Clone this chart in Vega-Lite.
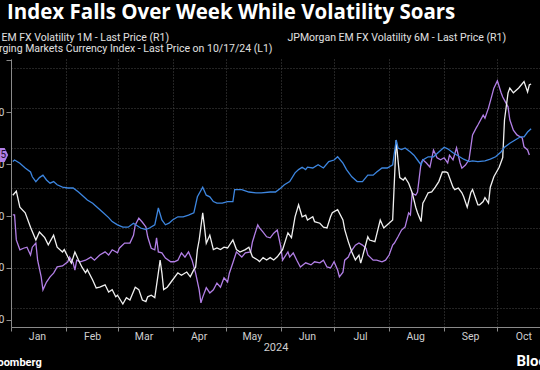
{
"$schema": "https://vega.github.io/schema/vega-lite/v6.json",
"width": 529,
"height": 268,
"autosize": {"type": "none"},
"padding": {"left": 11, "top": 59, "right": 0, "bottom": 43},
"background": "#000000",
"title": {"text": " Index Falls Over Week While Volatility Soars", "anchor": "start", "frame": "group", "color": "#ffffff", "font": "Open Sans", "fontSize": 20.5, "fontWeight": "bold", "dx": -4, "offset": 10},
"config": {
  "view": {"stroke": null},
  "axis": {"domainColor": "#8a8a8a", "tickColor": "#8a8a8a", "labelColor": "#cfcfcf", "labelFont": "Roboto", "labelFontSize": 10.5, "titleFont": "Roboto", "titleColor": "#cfcfcf", "titleFontWeight": "normal", "gridColor": "#5a5a5a", "gridDash": [1, 2], "gridWidth": 0.8},
  "legend": {"orient": "none", "legendX": -75, "legendY": -26, "columns": 2, "symbolType": "square", "symbolSize": 30, "symbolStrokeWidth": 0, "labelFont": "Roboto", "labelFontSize": 10.5, "labelColor": "#e0e0e0", "labelLimit": 500, "columnPadding": -16, "rowPadding": 0, "title": null}
},
"datasets": {
"all": [
{"s":"1M","d":"2024-01-02","v":7.41},{"s":"1M","d":"2024-01-04","v":7.46},{"s":"1M","d":"2024-01-06","v":7.26},{"s":"1M","d":"2024-01-09","v":7.19},{"s":"1M","d":"2024-01-12","v":7.01},{"s":"1M","d":"2024-01-15","v":6.85},{"s":"1M","d":"2024-01-17","v":6.95},{"s":"1M","d":"2024-01-20","v":6.88},{"s":"1M","d":"2024-01-22","v":6.79},{"s":"1M","d":"2024-01-25","v":6.91},{"s":"1M","d":"2024-01-27","v":6.76},{"s":"1M","d":"2024-01-30","v":6.70},{"s":"1M","d":"2024-01-31","v":6.73},
{"s":"1M","d":"2024-02-02","v":6.64},{"s":"1M","d":"2024-02-04","v":6.56},{"s":"1M","d":"2024-02-06","v":6.70},{"s":"1M","d":"2024-02-08","v":6.60},{"s":"1M","d":"2024-02-10","v":6.51},{"s":"1M","d":"2024-02-12","v":6.44},{"s":"1M","d":"2024-02-13","v":6.48},{"s":"1M","d":"2024-02-16","v":6.35},{"s":"1M","d":"2024-02-18","v":6.25},{"s":"1M","d":"2024-02-20","v":6.26},{"s":"1M","d":"2024-02-23","v":6.29},{"s":"1M","d":"2024-02-25","v":6.20},{"s":"1M","d":"2024-02-27","v":6.23},{"s":"1M","d":"2024-02-29","v":6.14},
{"s":"1M","d":"2024-03-01","v":6.16},{"s":"1M","d":"2024-03-04","v":6.05},{"s":"1M","d":"2024-03-06","v":6.13},{"s":"1M","d":"2024-03-08","v":6.10},{"s":"1M","d":"2024-03-11","v":6.26},{"s":"1M","d":"2024-03-13","v":6.23},{"s":"1M","d":"2024-03-15","v":6.10},{"s":"1M","d":"2024-03-17","v":6.08},{"s":"1M","d":"2024-03-18","v":6.14},{"s":"1M","d":"2024-03-20","v":6.16},{"s":"1M","d":"2024-03-22","v":6.13},{"s":"1M","d":"2024-03-24","v":6.44},{"s":"1M","d":"2024-03-25","v":6.60},{"s":"1M","d":"2024-03-26","v":6.44},{"s":"1M","d":"2024-03-27","v":6.23},{"s":"1M","d":"2024-03-29","v":6.26},
{"s":"1M","d":"2024-04-01","v":6.35},{"s":"1M","d":"2024-04-04","v":6.44},{"s":"1M","d":"2024-04-06","v":6.41},{"s":"1M","d":"2024-04-09","v":6.45},{"s":"1M","d":"2024-04-11","v":6.39},{"s":"1M","d":"2024-04-13","v":6.48},{"s":"1M","d":"2024-04-14","v":6.51},{"s":"1M","d":"2024-04-15","v":6.73},{"s":"1M","d":"2024-04-16","v":6.85},{"s":"1M","d":"2024-04-18","v":7.19},{"s":"1M","d":"2024-04-19","v":7.01},{"s":"1M","d":"2024-04-20","v":6.81},{"s":"1M","d":"2024-04-22","v":6.91},{"s":"1M","d":"2024-04-24","v":6.73},{"s":"1M","d":"2024-04-26","v":6.75},{"s":"1M","d":"2024-04-28","v":6.73},{"s":"1M","d":"2024-04-30","v":6.76},
{"s":"1M","d":"2024-05-02","v":6.75},{"s":"1M","d":"2024-05-05","v":6.85},{"s":"1M","d":"2024-05-07","v":6.73},{"s":"1M","d":"2024-05-09","v":6.70},{"s":"1M","d":"2024-05-12","v":6.73},{"s":"1M","d":"2024-05-14","v":6.76},{"s":"1M","d":"2024-05-16","v":6.64},{"s":"1M","d":"2024-05-19","v":6.60},{"s":"1M","d":"2024-05-20","v":6.58},{"s":"1M","d":"2024-05-22","v":6.63},{"s":"1M","d":"2024-05-24","v":6.60},{"s":"1M","d":"2024-05-26","v":6.63},{"s":"1M","d":"2024-05-28","v":6.60},{"s":"1M","d":"2024-05-30","v":6.64},
{"s":"1M","d":"2024-06-02","v":6.73},{"s":"1M","d":"2024-06-05","v":6.94},{"s":"1M","d":"2024-06-07","v":6.88},{"s":"1M","d":"2024-06-09","v":7.14},{"s":"1M","d":"2024-06-11","v":7.29},{"s":"1M","d":"2024-06-13","v":7.14},{"s":"1M","d":"2024-06-15","v":7.16},{"s":"1M","d":"2024-06-16","v":7.10},{"s":"1M","d":"2024-06-19","v":7.14},{"s":"1M","d":"2024-06-20","v":7.08},{"s":"1M","d":"2024-06-23","v":7.06},{"s":"1M","d":"2024-06-25","v":7.01},{"s":"1M","d":"2024-06-27","v":7.00},{"s":"1M","d":"2024-06-29","v":7.14},{"s":"1M","d":"2024-06-30","v":7.19},
{"s":"1M","d":"2024-07-03","v":7.23},{"s":"1M","d":"2024-07-06","v":7.10},{"s":"1M","d":"2024-07-07","v":6.98},{"s":"1M","d":"2024-07-09","v":6.83},{"s":"1M","d":"2024-07-11","v":6.70},{"s":"1M","d":"2024-07-13","v":6.60},{"s":"1M","d":"2024-07-15","v":6.66},{"s":"1M","d":"2024-07-16","v":6.56},{"s":"1M","d":"2024-07-17","v":6.64},{"s":"1M","d":"2024-07-20","v":6.89},{"s":"1M","d":"2024-07-21","v":6.85},{"s":"1M","d":"2024-07-24","v":6.83},{"s":"1M","d":"2024-07-27","v":7.10},{"s":"1M","d":"2024-07-29","v":7.00},{"s":"1M","d":"2024-07-31","v":7.04},
{"s":"1M","d":"2024-08-03","v":7.10},{"s":"1M","d":"2024-08-05","v":8.10},{"s":"1M","d":"2024-08-06","v":7.85},{"s":"1M","d":"2024-08-07","v":7.63},{"s":"1M","d":"2024-08-09","v":7.60},{"s":"1M","d":"2024-08-10","v":7.63},{"s":"1M","d":"2024-08-12","v":7.56},{"s":"1M","d":"2024-08-14","v":7.44},{"s":"1M","d":"2024-08-16","v":7.26},{"s":"1M","d":"2024-08-17","v":7.19},{"s":"1M","d":"2024-08-19","v":7.08},{"s":"1M","d":"2024-08-20","v":7.31},{"s":"1M","d":"2024-08-21","v":7.35},{"s":"1M","d":"2024-08-23","v":7.44},{"s":"1M","d":"2024-08-25","v":7.45},{"s":"1M","d":"2024-08-27","v":7.51},{"s":"1M","d":"2024-08-29","v":7.58},{"s":"1M","d":"2024-08-31","v":7.70},
{"s":"1M","d":"2024-09-02","v":7.70},{"s":"1M","d":"2024-09-03","v":7.69},{"s":"1M","d":"2024-09-06","v":7.51},{"s":"1M","d":"2024-09-07","v":7.48},{"s":"1M","d":"2024-09-09","v":7.50},{"s":"1M","d":"2024-09-11","v":7.44},{"s":"1M","d":"2024-09-12","v":7.39},{"s":"1M","d":"2024-09-14","v":7.26},{"s":"1M","d":"2024-09-16","v":7.44},{"s":"1M","d":"2024-09-17","v":7.48},{"s":"1M","d":"2024-09-20","v":7.29},{"s":"1M","d":"2024-09-21","v":7.29},{"s":"1M","d":"2024-09-23","v":7.33},{"s":"1M","d":"2024-09-24","v":7.38},{"s":"1M","d":"2024-09-26","v":7.31},{"s":"1M","d":"2024-09-27","v":7.51},{"s":"1M","d":"2024-09-29","v":7.64},
{"s":"1M","d":"2024-10-02","v":7.76},{"s":"1M","d":"2024-10-04","v":7.88},{"s":"1M","d":"2024-10-05","v":8.35},{"s":"1M","d":"2024-10-07","v":8.69},{"s":"1M","d":"2024-10-08","v":8.75},{"s":"1M","d":"2024-10-10","v":8.69},{"s":"1M","d":"2024-10-13","v":8.75},{"s":"1M","d":"2024-10-16","v":8.83},{"s":"1M","d":"2024-10-18","v":8.70},{"s":"1M","d":"2024-10-19","v":8.79},{"s":"1M","d":"2024-10-20","v":8.80},
{"s":"6M","d":"2024-01-02","v":7.83},{"s":"6M","d":"2024-01-03","v":7.85},{"s":"6M","d":"2024-01-06","v":7.81},{"s":"6M","d":"2024-01-09","v":7.75},{"s":"6M","d":"2024-01-12","v":7.70},{"s":"6M","d":"2024-01-13","v":7.64},{"s":"6M","d":"2024-01-15","v":7.58},{"s":"6M","d":"2024-01-17","v":7.63},{"s":"6M","d":"2024-01-19","v":7.66},{"s":"6M","d":"2024-01-21","v":7.60},{"s":"6M","d":"2024-01-23","v":7.56},{"s":"6M","d":"2024-01-25","v":7.58},{"s":"6M","d":"2024-01-27","v":7.54},{"s":"6M","d":"2024-01-30","v":7.51},
{"s":"6M","d":"2024-02-02","v":7.50},{"s":"6M","d":"2024-02-05","v":7.50},{"s":"6M","d":"2024-02-08","v":7.45},{"s":"6M","d":"2024-02-11","v":7.39},{"s":"6M","d":"2024-02-13","v":7.35},{"s":"6M","d":"2024-02-16","v":7.31},{"s":"6M","d":"2024-02-19","v":7.25},{"s":"6M","d":"2024-02-22","v":7.19},{"s":"6M","d":"2024-02-25","v":7.13},{"s":"6M","d":"2024-02-27","v":7.08},
{"s":"6M","d":"2024-03-01","v":7.04},{"s":"6M","d":"2024-03-04","v":7.01},{"s":"6M","d":"2024-03-07","v":7.01},{"s":"6M","d":"2024-03-10","v":7.06},{"s":"6M","d":"2024-03-14","v":7.00},{"s":"6M","d":"2024-03-17","v":6.98},{"s":"6M","d":"2024-03-19","v":7.00},{"s":"6M","d":"2024-03-22","v":7.04},{"s":"6M","d":"2024-03-24","v":7.25},{"s":"6M","d":"2024-03-26","v":7.10},{"s":"6M","d":"2024-03-28","v":7.04},{"s":"6M","d":"2024-03-30","v":7.06},
{"s":"6M","d":"2024-04-01","v":7.10},{"s":"6M","d":"2024-04-04","v":7.14},{"s":"6M","d":"2024-04-07","v":7.14},{"s":"6M","d":"2024-04-10","v":7.16},{"s":"6M","d":"2024-04-13","v":7.19},{"s":"6M","d":"2024-04-15","v":7.39},{"s":"6M","d":"2024-04-18","v":7.51},{"s":"6M","d":"2024-04-20","v":7.41},{"s":"6M","d":"2024-04-22","v":7.39},{"s":"6M","d":"2024-04-24","v":7.33},{"s":"6M","d":"2024-04-26","v":7.31},{"s":"6M","d":"2024-04-29","v":7.31},
{"s":"6M","d":"2024-05-02","v":7.33},{"s":"6M","d":"2024-05-05","v":7.33},{"s":"6M","d":"2024-05-06","v":7.48},{"s":"6M","d":"2024-05-10","v":7.48},{"s":"6M","d":"2024-05-14","v":7.45},{"s":"6M","d":"2024-05-18","v":7.44},{"s":"6M","d":"2024-05-21","v":7.44},{"s":"6M","d":"2024-05-26","v":7.45},{"s":"6M","d":"2024-05-29","v":7.45},
{"s":"6M","d":"2024-06-01","v":7.50},{"s":"6M","d":"2024-06-03","v":7.54},{"s":"6M","d":"2024-06-06","v":7.58},{"s":"6M","d":"2024-06-09","v":7.69},{"s":"6M","d":"2024-06-11","v":7.73},{"s":"6M","d":"2024-06-13","v":7.76},{"s":"6M","d":"2024-06-15","v":7.73},{"s":"6M","d":"2024-06-16","v":7.76},{"s":"6M","d":"2024-06-19","v":7.75},{"s":"6M","d":"2024-06-22","v":7.79},{"s":"6M","d":"2024-06-25","v":7.75},{"s":"6M","d":"2024-06-28","v":7.83},
{"s":"6M","d":"2024-07-01","v":7.85},{"s":"6M","d":"2024-07-03","v":7.89},{"s":"6M","d":"2024-07-06","v":7.81},{"s":"6M","d":"2024-07-08","v":7.73},{"s":"6M","d":"2024-07-11","v":7.64},{"s":"6M","d":"2024-07-14","v":7.58},{"s":"6M","d":"2024-07-17","v":7.58},{"s":"6M","d":"2024-07-20","v":7.66},{"s":"6M","d":"2024-07-23","v":7.66},{"s":"6M","d":"2024-07-25","v":7.70},{"s":"6M","d":"2024-07-28","v":7.75},{"s":"6M","d":"2024-07-31","v":7.75},
{"s":"6M","d":"2024-08-03","v":7.79},{"s":"6M","d":"2024-08-05","v":8.10},{"s":"6M","d":"2024-08-06","v":8.00},{"s":"6M","d":"2024-08-08","v":7.98},{"s":"6M","d":"2024-08-10","v":8.00},{"s":"6M","d":"2024-08-13","v":7.95},{"s":"6M","d":"2024-08-15","v":7.91},{"s":"6M","d":"2024-08-17","v":7.85},{"s":"6M","d":"2024-08-19","v":7.79},{"s":"6M","d":"2024-08-20","v":7.85},{"s":"6M","d":"2024-08-23","v":7.89},{"s":"6M","d":"2024-08-26","v":7.89},{"s":"6M","d":"2024-08-29","v":7.95},
{"s":"6M","d":"2024-09-01","v":8.01},{"s":"6M","d":"2024-09-03","v":7.99},{"s":"6M","d":"2024-09-06","v":7.94},{"s":"6M","d":"2024-09-09","v":7.90},{"s":"6M","d":"2024-09-12","v":7.86},{"s":"6M","d":"2024-09-15","v":7.83},{"s":"6M","d":"2024-09-17","v":7.84},{"s":"6M","d":"2024-09-20","v":7.83},{"s":"6M","d":"2024-09-24","v":7.84},{"s":"6M","d":"2024-09-27","v":7.86},{"s":"6M","d":"2024-09-30","v":7.89},
{"s":"6M","d":"2024-10-03","v":7.95},{"s":"6M","d":"2024-10-05","v":8.01},{"s":"6M","d":"2024-10-08","v":8.06},{"s":"6M","d":"2024-10-11","v":8.10},{"s":"6M","d":"2024-10-14","v":8.14},{"s":"6M","d":"2024-10-16","v":8.14},{"s":"6M","d":"2024-10-18","v":8.20},{"s":"6M","d":"2024-10-20","v":8.24},
{"s":"EM","d":"2024-01-02","v":1740.2},{"s":"EM","d":"2024-01-03","v":1740.2},{"s":"EM","d":"2024-01-04","v":1735.4},{"s":"EM","d":"2024-01-06","v":1733.5},{"s":"EM","d":"2024-01-08","v":1733.8},{"s":"EM","d":"2024-01-10","v":1734.0},{"s":"EM","d":"2024-01-12","v":1732.5},{"s":"EM","d":"2024-01-13","v":1734.0},{"s":"EM","d":"2024-01-15","v":1734.8},{"s":"EM","d":"2024-01-16","v":1731.5},{"s":"EM","d":"2024-01-18","v":1728.3},{"s":"EM","d":"2024-01-19","v":1725.8},{"s":"EM","d":"2024-01-21","v":1727.3},{"s":"EM","d":"2024-01-23","v":1728.3},{"s":"EM","d":"2024-01-25","v":1729.0},{"s":"EM","d":"2024-01-27","v":1730.2},{"s":"EM","d":"2024-01-30","v":1730.4},
{"s":"EM","d":"2024-02-02","v":1731.2},{"s":"EM","d":"2024-02-03","v":1732.1},{"s":"EM","d":"2024-02-05","v":1731.0},{"s":"EM","d":"2024-02-06","v":1729.6},{"s":"EM","d":"2024-02-07","v":1731.5},{"s":"EM","d":"2024-02-09","v":1731.2},{"s":"EM","d":"2024-02-12","v":1731.5},{"s":"EM","d":"2024-02-15","v":1732.1},{"s":"EM","d":"2024-02-17","v":1731.5},{"s":"EM","d":"2024-02-20","v":1732.5},{"s":"EM","d":"2024-02-23","v":1733.1},{"s":"EM","d":"2024-02-25","v":1732.5},{"s":"EM","d":"2024-02-27","v":1733.5},
{"s":"EM","d":"2024-03-01","v":1732.9},{"s":"EM","d":"2024-03-02","v":1733.8},{"s":"EM","d":"2024-03-05","v":1734.8},{"s":"EM","d":"2024-03-08","v":1734.8},{"s":"EM","d":"2024-03-10","v":1736.3},{"s":"EM","d":"2024-03-11","v":1738.3},{"s":"EM","d":"2024-03-13","v":1739.6},{"s":"EM","d":"2024-03-15","v":1738.8},{"s":"EM","d":"2024-03-17","v":1737.9},{"s":"EM","d":"2024-03-18","v":1736.0},{"s":"EM","d":"2024-03-20","v":1733.8},{"s":"EM","d":"2024-03-22","v":1733.5},{"s":"EM","d":"2024-03-23","v":1735.8},{"s":"EM","d":"2024-03-24","v":1733.1},{"s":"EM","d":"2024-03-26","v":1732.9},{"s":"EM","d":"2024-03-28","v":1731.9},{"s":"EM","d":"2024-03-31","v":1731.2},
{"s":"EM","d":"2024-04-02","v":1731.2},{"s":"EM","d":"2024-04-04","v":1731.5},{"s":"EM","d":"2024-04-06","v":1732.9},{"s":"EM","d":"2024-04-08","v":1732.1},{"s":"EM","d":"2024-04-10","v":1733.1},{"s":"EM","d":"2024-04-12","v":1731.5},{"s":"EM","d":"2024-04-14","v":1729.0},{"s":"EM","d":"2024-04-16","v":1725.8},{"s":"EM","d":"2024-04-17","v":1723.3},{"s":"EM","d":"2024-04-18","v":1724.4},{"s":"EM","d":"2024-04-20","v":1726.2},{"s":"EM","d":"2024-04-22","v":1725.2},{"s":"EM","d":"2024-04-24","v":1725.8},{"s":"EM","d":"2024-04-26","v":1727.1},{"s":"EM","d":"2024-04-28","v":1726.3},{"s":"EM","d":"2024-04-30","v":1728.1},
{"s":"EM","d":"2024-05-02","v":1727.3},{"s":"EM","d":"2024-05-03","v":1729.0},{"s":"EM","d":"2024-05-05","v":1731.0},{"s":"EM","d":"2024-05-07","v":1733.1},{"s":"EM","d":"2024-05-10","v":1732.1},{"s":"EM","d":"2024-05-12","v":1732.9},{"s":"EM","d":"2024-05-15","v":1733.1},{"s":"EM","d":"2024-05-16","v":1735.0},{"s":"EM","d":"2024-05-19","v":1738.3},{"s":"EM","d":"2024-05-20","v":1737.7},{"s":"EM","d":"2024-05-22","v":1736.9},{"s":"EM","d":"2024-05-24","v":1736.0},{"s":"EM","d":"2024-05-26","v":1735.8},{"s":"EM","d":"2024-05-28","v":1736.7},{"s":"EM","d":"2024-05-30","v":1737.3},
{"s":"EM","d":"2024-06-01","v":1734.0},{"s":"EM","d":"2024-06-02","v":1731.5},{"s":"EM","d":"2024-06-05","v":1733.1},{"s":"EM","d":"2024-06-06","v":1732.1},{"s":"EM","d":"2024-06-08","v":1732.9},{"s":"EM","d":"2024-06-10","v":1731.5},{"s":"EM","d":"2024-06-12","v":1730.2},{"s":"EM","d":"2024-06-15","v":1731.0},{"s":"EM","d":"2024-06-18","v":1730.6},{"s":"EM","d":"2024-06-20","v":1731.2},{"s":"EM","d":"2024-06-23","v":1731.0},{"s":"EM","d":"2024-06-25","v":1731.5},{"s":"EM","d":"2024-06-27","v":1730.2},{"s":"EM","d":"2024-06-29","v":1730.0},
{"s":"EM","d":"2024-07-01","v":1731.2},{"s":"EM","d":"2024-07-03","v":1729.6},{"s":"EM","d":"2024-07-04","v":1728.3},{"s":"EM","d":"2024-07-06","v":1729.2},{"s":"EM","d":"2024-07-07","v":1731.5},{"s":"EM","d":"2024-07-09","v":1732.1},{"s":"EM","d":"2024-07-10","v":1732.9},{"s":"EM","d":"2024-07-13","v":1734.4},{"s":"EM","d":"2024-07-15","v":1734.8},{"s":"EM","d":"2024-07-17","v":1734.4},{"s":"EM","d":"2024-07-19","v":1733.8},{"s":"EM","d":"2024-07-20","v":1732.5},{"s":"EM","d":"2024-07-23","v":1731.5},{"s":"EM","d":"2024-07-25","v":1731.5},{"s":"EM","d":"2024-07-28","v":1731.2},{"s":"EM","d":"2024-07-30","v":1731.5},
{"s":"EM","d":"2024-08-01","v":1732.5},{"s":"EM","d":"2024-08-03","v":1734.4},{"s":"EM","d":"2024-08-04","v":1734.8},{"s":"EM","d":"2024-08-06","v":1736.0},{"s":"EM","d":"2024-08-08","v":1737.3},{"s":"EM","d":"2024-08-10","v":1737.9},{"s":"EM","d":"2024-08-12","v":1740.6},{"s":"EM","d":"2024-08-13","v":1740.2},{"s":"EM","d":"2024-08-14","v":1744.4},{"s":"EM","d":"2024-08-16","v":1744.0},{"s":"EM","d":"2024-08-17","v":1744.6},{"s":"EM","d":"2024-08-19","v":1750.2},{"s":"EM","d":"2024-08-20","v":1750.8},{"s":"EM","d":"2024-08-22","v":1750.2},{"s":"EM","d":"2024-08-24","v":1749.4},{"s":"EM","d":"2024-08-26","v":1752.7},{"s":"EM","d":"2024-08-28","v":1751.2},{"s":"EM","d":"2024-08-30","v":1750.8},
{"s":"EM","d":"2024-09-01","v":1751.2},{"s":"EM","d":"2024-09-03","v":1750.2},{"s":"EM","d":"2024-09-04","v":1751.7},{"s":"EM","d":"2024-09-06","v":1750.8},{"s":"EM","d":"2024-09-08","v":1753.1},{"s":"EM","d":"2024-09-10","v":1750.2},{"s":"EM","d":"2024-09-11","v":1749.2},{"s":"EM","d":"2024-09-13","v":1749.8},{"s":"EM","d":"2024-09-15","v":1750.8},{"s":"EM","d":"2024-09-17","v":1755.6},{"s":"EM","d":"2024-09-19","v":1756.9},{"s":"EM","d":"2024-09-20","v":1757.5},{"s":"EM","d":"2024-09-23","v":1759.4},{"s":"EM","d":"2024-09-24","v":1758.8},{"s":"EM","d":"2024-09-26","v":1760.8},{"s":"EM","d":"2024-09-28","v":1763.3},{"s":"EM","d":"2024-09-29","v":1764.6},
{"s":"EM","d":"2024-10-01","v":1766.0},{"s":"EM","d":"2024-10-03","v":1763.8},{"s":"EM","d":"2024-10-04","v":1762.9},{"s":"EM","d":"2024-10-07","v":1761.0},{"s":"EM","d":"2024-10-08","v":1758.5},{"s":"EM","d":"2024-10-10","v":1756.5},{"s":"EM","d":"2024-10-12","v":1755.6},{"s":"EM","d":"2024-10-14","v":1755.2},{"s":"EM","d":"2024-10-15","v":1755.0},{"s":"EM","d":"2024-10-16","v":1753.3},{"s":"EM","d":"2024-10-18","v":1752.7},{"s":"EM","d":"2024-10-19","v":1751.75}
]
},
"data": {"name": "all"},
"encoding": {
  "x": {"field": "d", "type": "temporal",
    "scale": {"type": "utc", "domain": [{"year": 2024, "month": 1, "date": 1, "utc": true}, {"year": 2024, "month": 10, "date": 25, "utc": true}]},
    "axis": {"title": "2024", "titlePadding": 0, "titleFontSize": 11, "tickCount": {"interval": "month", "step": 1}, "labelExpr": "utcFormat(datum.value, '%b')", "labelOffset": 26, "labelFlush": false, "labelOverlap": false, "labelPadding": 0, "tickSize": 4, "grid": true}}
},
"layer": [
  {
    "layer": [
      {
        "transform": [{"filter": "datum.s === 'EM'"}],
        "mark": {"type": "line", "strokeWidth": 1.3},
        "encoding": {
          "y": {"field": "v", "type": "quantitative", "scale": {"domain": [1718.65, 1770.2], "nice": false, "zero": false},
            "axis": {"orient": "left", "values": [1720, 1725, 1730, 1735, 1740, 1745, 1750, 1755, 1760, 1765, 1770], "labelExpr": "datum.value % 10 === 0 && datum.value < 1770 ? format(datum.value, ',') : ''", "grid": false, "tickSize": {"condition": {"test": "datum.value % 10 === 0", "value": 5}, "value": 3}, "labelPadding": 2, "labelBaseline": "middle",
              "title": "Bloomberg", "titleAngle": 0, "titleX": -24, "titleY": 306, "titleAlign": "left", "titleBaseline": "alphabetic", "titleFontWeight": "bold", "titleFontSize": 11, "titleColor": "#ffffff"}},
          "color": {"field": "s", "type": "nominal", "scale": {"domain": ["1M", "EM", "6M"], "range": ["#f0f0f0", "#b27fe6", "#3d86e0"]},
            "legend": {"labelExpr": "datum.label === '1M' ? 'JPMorgan EM FX Volatility 1M - Last Price (R1)' : datum.label === '6M' ? 'JPMorgan EM FX Volatility 6M - Last Price (R1)' : 'MSCI Emerging Markets Currency Index - Last Price on 10/17/24 (L1)'"}}
        }
      },
      {
        "transform": [{"filter": "datum.s === 'EM'"}, {"window": [{"op": "row_number", "as": "rn"}], "sort": [{"field": "d", "order": "descending"}]}, {"filter": "datum.rn === 1"}],
        "mark": {"type": "point", "shape": "M -2.4 -0.5 L -0.45 -0.5 L -0.2 0 L -0.45 0.5 L -2.4 0.5 Z", "size": 784, "filled": true, "opacity": 1, "color": "#b27fe6"},
        "encoding": {
          "x": {"datum": {"year": 2024, "month": 1, "date": 1, "utc": true}, "type": "temporal"},
          "y": {"field": "v", "type": "quantitative"}
        }
      },
      {
        "transform": [{"filter": "datum.s === 'EM'"}, {"window": [{"op": "row_number", "as": "rn"}], "sort": [{"field": "d", "order": "descending"}]}, {"filter": "datum.rn === 1"}],
        "mark": {"type": "text", "align": "right", "baseline": "middle", "dx": -5, "font": "Roboto", "fontSize": 10, "color": "#1a0a2a"},
        "encoding": {
          "x": {"datum": {"year": 2024, "month": 1, "date": 1, "utc": true}, "type": "temporal"},
          "y": {"field": "v", "type": "quantitative"},
          "text": {"field": "v", "type": "quantitative", "format": ",.2f"}
        }
      }
    ]
  },
  {
    "transform": [{"filter": "datum.s !== 'EM'"}],
    "mark": {"type": "line", "strokeWidth": 1.3},
    "encoding": {
      "y": {"field": "v", "type": "quantitative", "scale": {"domain": [5.7625, 9.1125], "nice": false, "zero": false},
        "axis": {"orient": "right", "values": [6, 6.5, 7, 7.5, 8, 8.5, 9], "grid": true, "tickSize": 5,
          "title": "Bloomberg", "titleAngle": 0, "titleX": -24, "titleY": 306, "titleAlign": "left", "titleBaseline": "alphabetic", "titleFontWeight": "bold", "titleFontSize": 15, "titleColor": "#ffffff"}},
      "color": {"field": "s", "type": "nominal", "scale": {"domain": ["1M", "EM", "6M"], "range": ["#f0f0f0", "#b27fe6", "#3d86e0"]},
        "legend": {"labelExpr": "datum.label === '1M' ? 'JPMorgan EM FX Volatility 1M - Last Price (R1)' : datum.label === '6M' ? 'JPMorgan EM FX Volatility 6M - Last Price (R1)' : 'MSCI Emerging Markets Currency Index - Last Price on 10/17/24 (L1)'"}}
    }
  }
],
"resolve": {"scale": {"y": "independent"}}
}
